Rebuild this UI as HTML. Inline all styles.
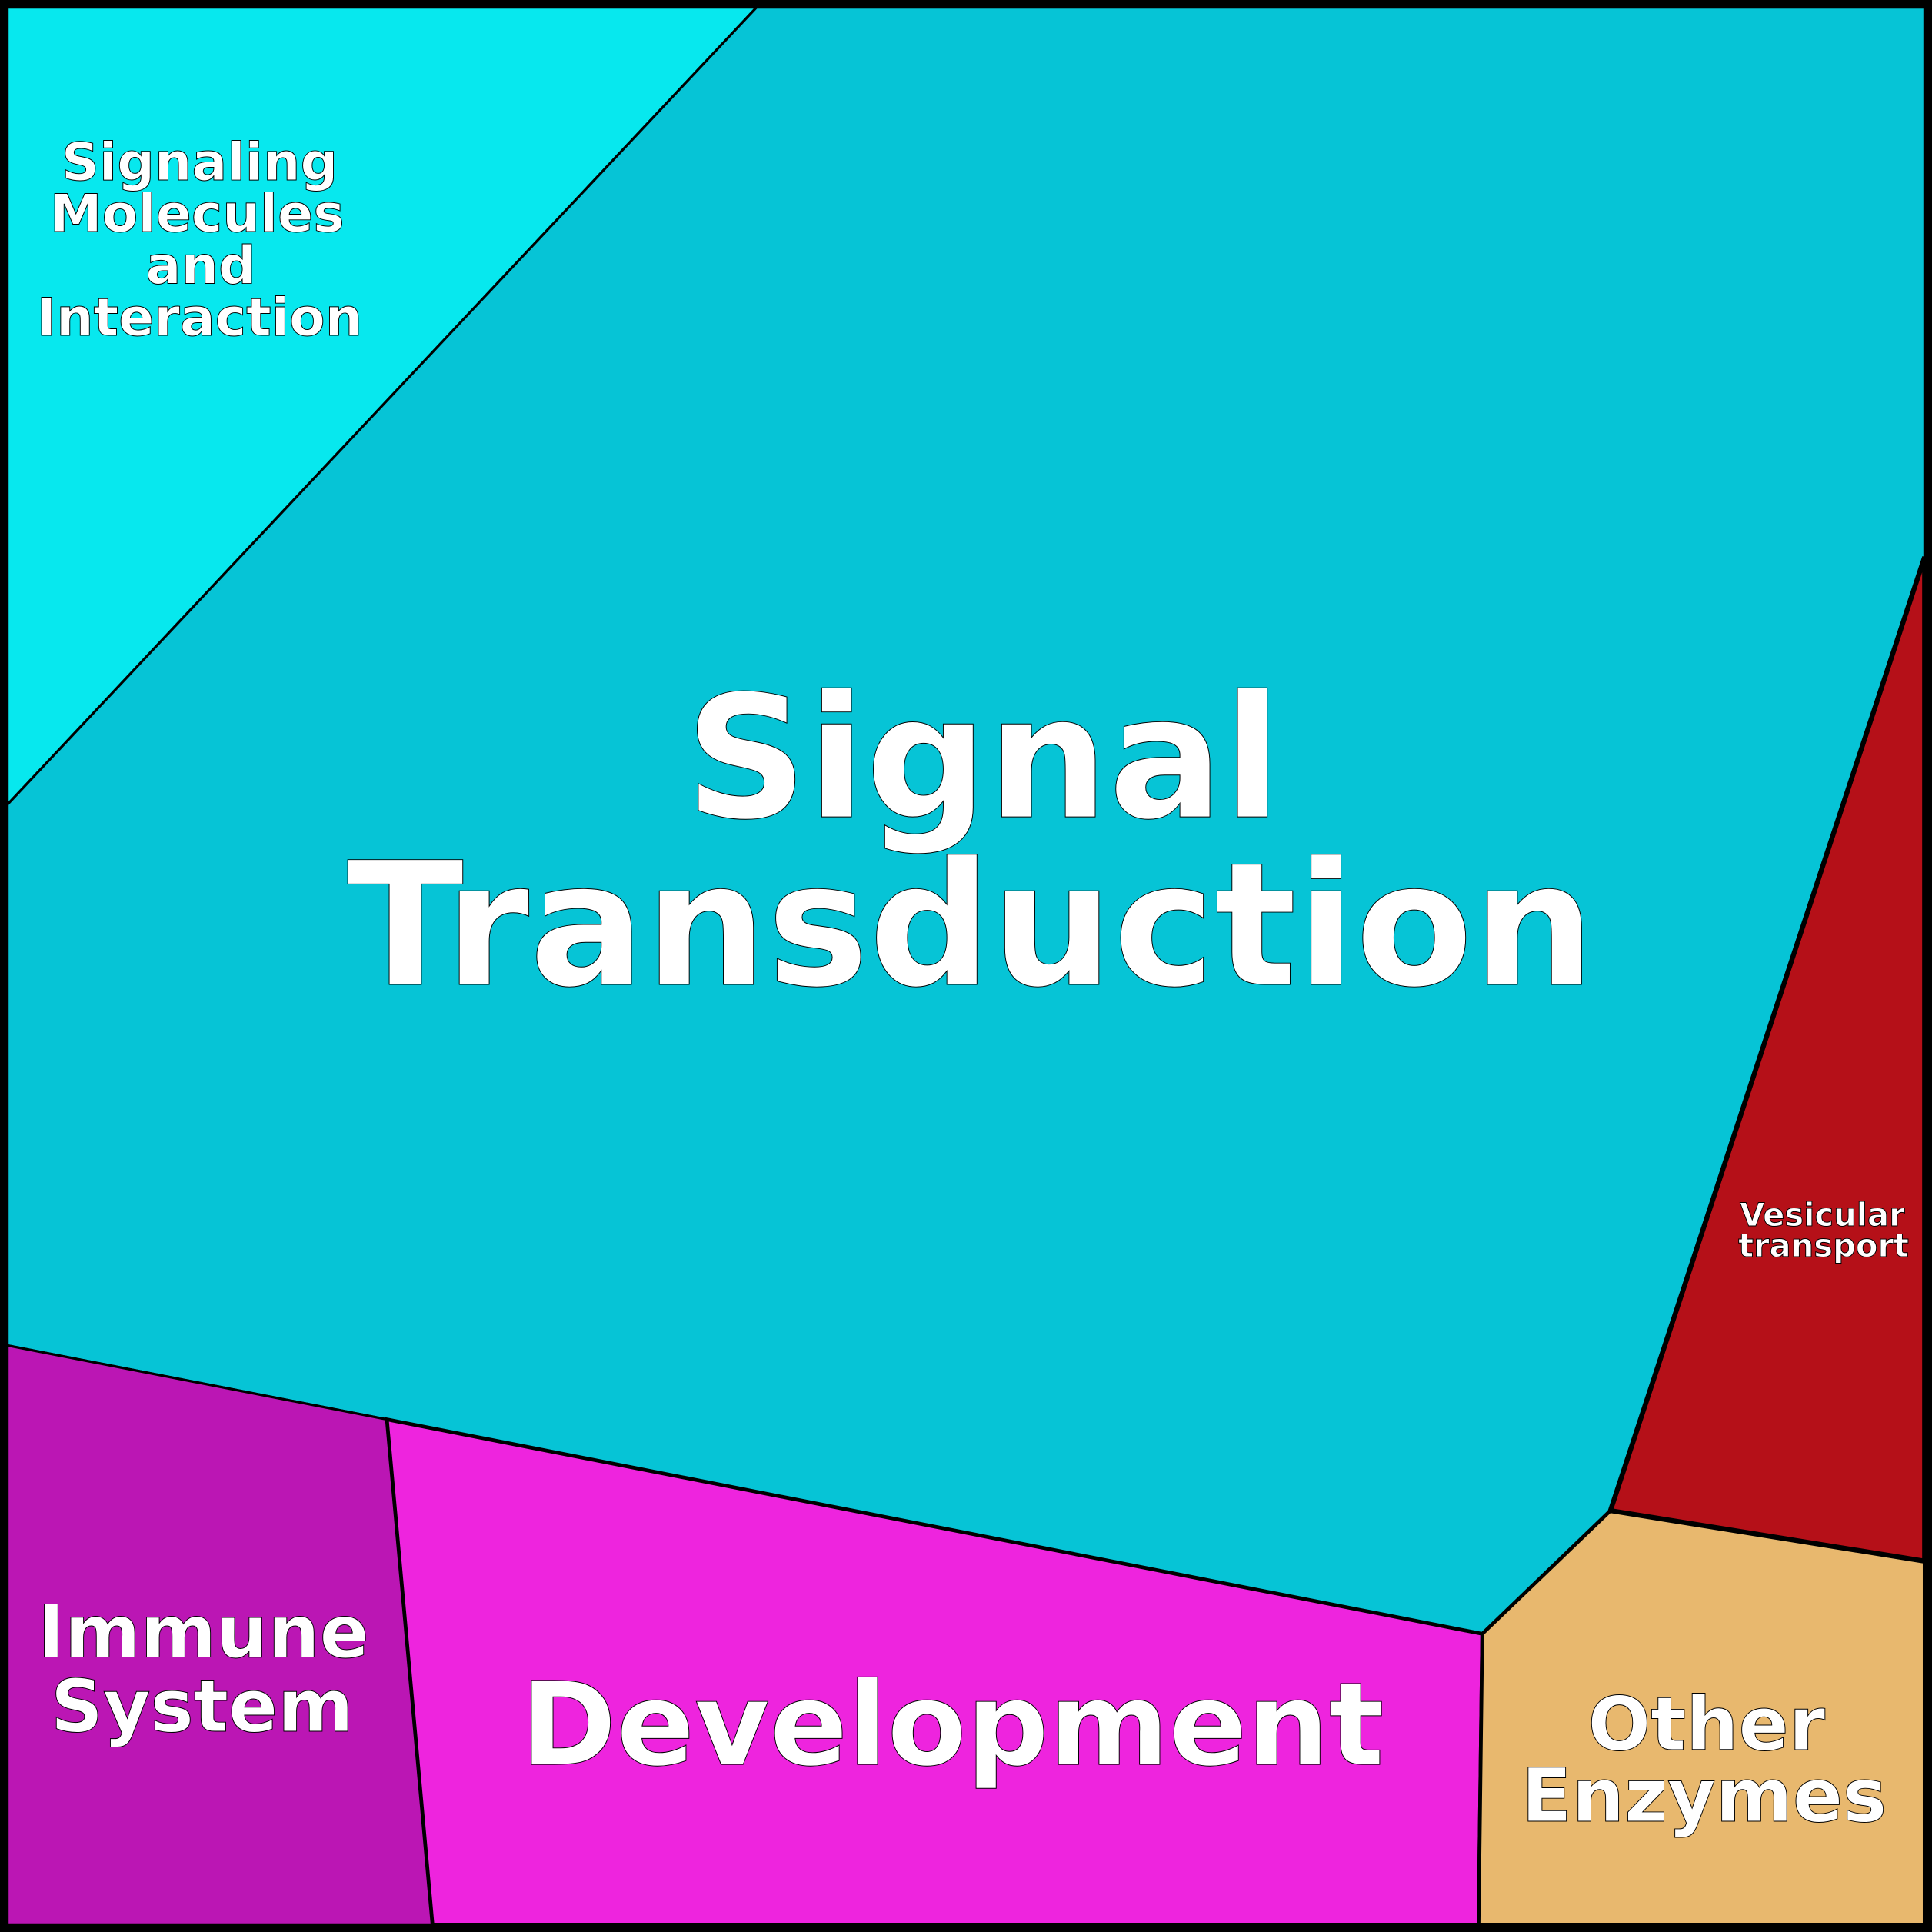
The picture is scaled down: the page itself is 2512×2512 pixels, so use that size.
<!DOCTYPE html>
<html><head><style>html,body{margin:0;padding:0;background:#fff}svg{display:block}
text{font-family:"DejaVu Sans","Liberation Sans",sans-serif;font-weight:bold;fill:#fff;stroke:#000;stroke-width:0.6;text-anchor:middle}</style></head>
<body>
<svg width="2512" height="2512" viewBox="0 0 1568 1568" xmlns="http://www.w3.org/2000/svg">
<rect x="0" y="0" width="1568" height="1568" fill="#000"/>
<polygon points="6,6 614,6 6,653" fill="#07e8ee" stroke="#000" stroke-width="2"/>
<polygon points="614,6 1562,6 1562,452 1307,1226 1203,1326 314,1152 6,1092 6,653" fill="#06c4d6" stroke="#000" stroke-width="2"/>
<polygon points="6,1092 314,1152 351,1562 6,1562" fill="#bb16b4" stroke="#000" stroke-width="2"/>
<polygon points="314,1152 1203,1326 1200,1562 351,1562" fill="#ee24de" stroke="#000" stroke-width="3"/>
<polygon points="1203,1326 1307,1226 1562,1267 1562,1562 1200,1562" fill="#e8b86e" stroke="#000" stroke-width="3"/>
<polygon points="1307,1226 1562,452 1562,1267" fill="#b51018" stroke="#000" stroke-width="4"/>
<rect x="3" y="3" width="1562" height="1562" fill="none" stroke="#000" stroke-width="6"/>
<text x="162" y="146" font-size="42.5">Signaling</text>
<text x="160" y="188" font-size="42.5">Molecules</text>
<text x="163" y="230" font-size="42.5">and</text>
<text x="162" y="272" font-size="42.5">Interaction</text>
<text x="798" y="663" font-size="138">Signal</text>
<text x="788" y="799" font-size="139">Transduction</text>
<text x="773" y="1432" font-size="93.5">Development</text>
<text x="165" y="1345" font-size="59">Immune</text>
<text x="164" y="1405" font-size="59">System</text>
<text x="1385" y="1420" font-size="60">Other</text>
<text x="1383" y="1478" font-size="60">Enzymes</text>
<text x="1479" y="995" font-size="26">Vesicular</text>
<text x="1480" y="1020" font-size="26">transport</text>
</svg>
</body></html>
